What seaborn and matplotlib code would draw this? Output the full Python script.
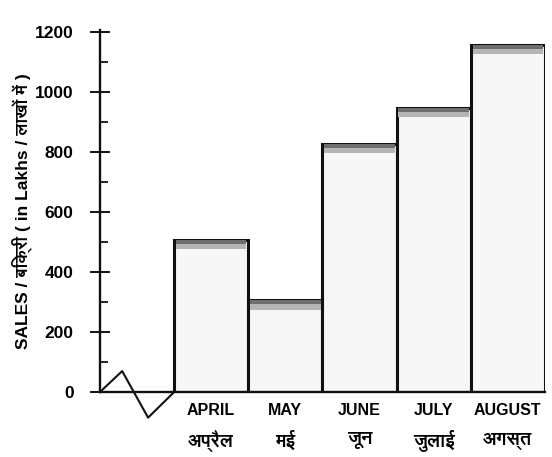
import matplotlib
matplotlib.use("Agg")
import matplotlib.pyplot as plt
from matplotlib import font_manager
from matplotlib.ft2font import FT2Font
from matplotlib.ticker import MultipleLocator
import seaborn as sns
import pandas as pd

# ==========================================
# Data
# ==========================================

months_en = ["APRIL", "MAY", "JUNE", "JULY", "AUGUST"]
months_hi = ["अप्रैल", "मई", "जून", "जुलाई", "अगस्त"]
sales = [505, 305, 825, 945, 1155]

df = pd.DataFrame({"month": months_en, "sales": sales})

# ==========================================
# Fonts (look for something that can draw Devanagari, bold if possible)
# ==========================================

sns.set_style("white")

deva_family = None
deva_bold = False
for f in font_manager.fontManager.ttflist:
    try:
        if ord("अ") in FT2Font(f.fname).get_charmap():
            is_bold = f.weight in ("bold", 700, 600, 800, "semibold", "heavy") or \
                (isinstance(f.weight, int) and f.weight >= 600)
            if deva_family is None or (is_bold and not deva_bold):
                deva_family = f.name
                deva_bold = is_bold
    except Exception:
        pass

families = ["Liberation Sans", "DejaVu Sans"]
if deva_family:
    families.insert(1, deva_family)
plt.rcParams["font.family"] = families
plt.rcParams["font.weight"] = "bold"
plt.rcParams["text.color"] = "black"
plt.rcParams["xtick.color"] = "black"
plt.rcParams["ytick.color"] = "black"
plt.rcParams["axes.labelcolor"] = "black"

# ==========================================
# Plot
# ==========================================

fig = plt.figure(figsize=(5.52, 4.57), dpi=100)
ax = fig.add_axes([0.181, 0.142, 0.806, 0.792])

sns.barplot(
    data=df,
    x="month",
    y="sales",
    color="#f7f7f7",
    edgecolor="#111111",
    linewidth=2.2,
    width=1.0,
    saturation=1,
    ax=ax
)

# darker bevel strips along the top of each bar
ax.bar(range(len(sales)), [30] * len(sales), bottom=[v - 30 for v in sales],
       width=0.95, color="#b5b5b5", linewidth=0, zorder=3)
ax.bar(range(len(sales)), [12] * len(sales), bottom=[v - 12 for v in sales],
       width=0.95, color="#6e6e6e", linewidth=0, zorder=3)

ax.set_xlim(-1.5, len(sales) - 0.5)
ax.set_ylim(0, 1205)

ax.yaxis.set_major_locator(MultipleLocator(200))
ax.yaxis.set_minor_locator(MultipleLocator(100))
ax.tick_params(axis="y", which="major", direction="inout", length=14, width=1.3,
               labelsize=12.5, pad=12, left=True)
ax.tick_params(axis="y", which="minor", direction="in", length=6, width=1.2, left=True)
ax.tick_params(axis="x", length=0, labelsize=11.5, pad=8)

# English month names as tick labels, Hindi names underneath
ax.set_xticks(range(len(sales)))
ax.set_xticklabels(months_en, fontweight="bold")
for i, h in enumerate(months_hi):
    ax.text(i, -0.135, h, transform=ax.get_xaxis_transform(), ha="center",
            va="center", fontsize=13.5, fontweight="bold")
for lab in ax.get_yticklabels():
    lab.set_fontweight("bold")

for s in ["top", "right"]:
    ax.spines[s].set_visible(False)
for s in ["left", "bottom"]:
    ax.spines[s].set_linewidth(1.7)
    ax.spines[s].set_color("#111111")

ax.set_xlabel("")
ax.set_ylabel("SALES / बिक्री ( in Lakhs / लाखों में )", fontsize=12.5,
              fontweight="bold", labelpad=2)

# axis-break zigzag at the start of the x axis
ax.plot([-1.5, -1.2, -0.85, -0.5], [0, 70, -85, 0], color="#111111",
        linewidth=1.5, clip_on=False)

fig.savefig("out.png", dpi=100)
